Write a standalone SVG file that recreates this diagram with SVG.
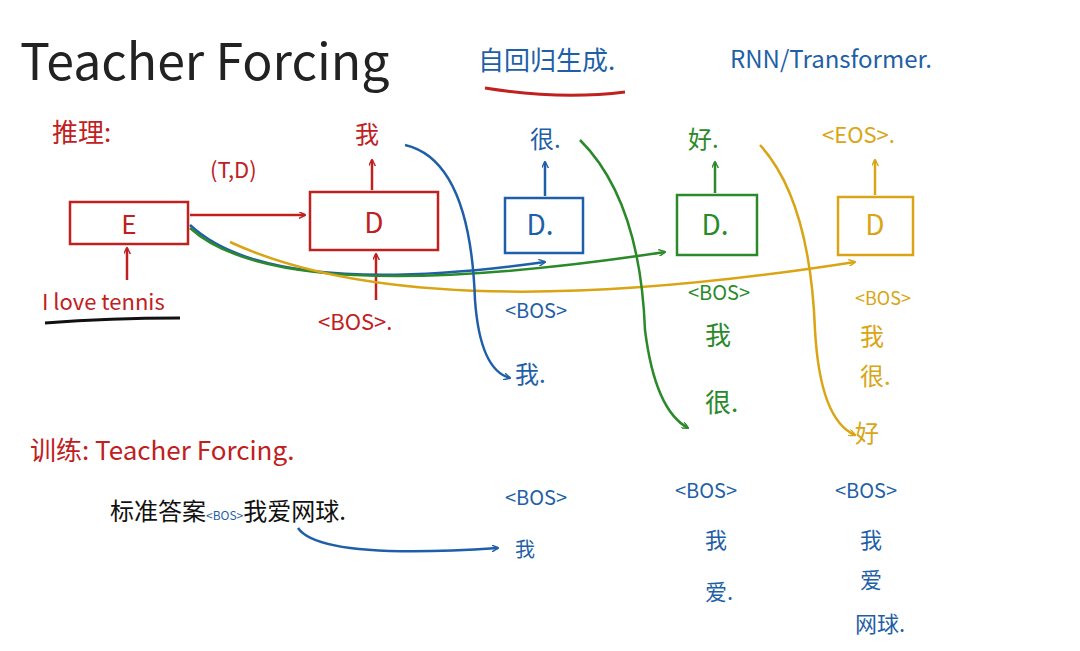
<svg xmlns="http://www.w3.org/2000/svg" width="1080" height="651" viewBox="0 0 1080 651">
<style>
.h{font-family:"Noto Sans CJK SC","Liberation Sans",sans-serif}
.r{fill:#c0201e}.b{fill:#1f5fa8}.g{fill:#2a8a2a}.y{fill:#d9a514}.k{fill:#111}
.box{fill:none;stroke-width:2.5}
.ln{fill:none;stroke-width:2.5}
</style>
<defs>
<marker id="ar" viewBox="0 0 10 10" refX="9" refY="5" markerWidth="7" markerHeight="7" orient="auto-start-reverse" markerUnits="userSpaceOnUse"><path d="M0,0L10,5L0,10" fill="none" stroke="context-stroke" stroke-width="2"/></marker>
</defs>
<rect width="1080" height="651" fill="#fff"/>
<text x="20" y="80" class="h" font-size="50" fill="#222">Teacher Forcing</text>
<text x="478" y="70" class="h b" font-size="26">自回归生成.</text>
<path d="M485,88 Q560,100 625,92" stroke="#c0201e" stroke-width="3" fill="none"/>
<text x="730" y="68" class="h b" font-size="24">RNN/Transformer.</text>
<text x="52" y="142" class="h r" font-size="26">推理:</text>
<text x="210" y="178" class="h r" font-size="22">(T,D)</text>
<g id="E"><rect x="70" y="202" width="118" height="42" class="box" stroke="#c0201e"/><text x="129" y="234" class="h r" font-size="26" text-anchor="middle">E</text></g>
<text x="42" y="310" class="h r" font-size="22">I love tennis</text>
<path d="M45,323 Q110,318 180,318" stroke="#111" stroke-width="3" fill="none"/>
<g id="D1"><rect x="310" y="192" width="128" height="58" class="box" stroke="#c0201e"/><text x="374" y="233" class="h r" font-size="28" text-anchor="middle">D</text></g>
<text x="355" y="143" class="h r" font-size="24">我</text>
<text x="318" y="330" class="h r" font-size="22">&lt;BOS&gt;.</text>
<g id="D2"><rect x="505" y="198" width="78" height="55" class="box" stroke="#1f5fa8"/><text x="540" y="235" class="h b" font-size="28" text-anchor="middle">D.</text></g>
<text x="530" y="148" class="h b" font-size="24">很.</text>
<text x="505" y="318" class="h b" font-size="20">&lt;BOS&gt;</text>
<text x="515" y="383" class="h b" font-size="24">我.</text>
<g id="D3"><rect x="677" y="195" width="80" height="60" class="box" stroke="#2a8a2a"/><text x="715" y="235" class="h g" font-size="28" text-anchor="middle">D.</text></g>
<text x="688" y="148" class="h g" font-size="24">好.</text>
<text x="688" y="300" class="h g" font-size="20">&lt;BOS&gt;</text>
<text x="705" y="345" class="h g" font-size="26">我</text>
<text x="705" y="412" class="h g" font-size="26">很.</text>
<g id="D4"><rect x="838" y="197" width="75" height="58" class="box" stroke="#d9a514"/><text x="875" y="235" class="h y" font-size="28" text-anchor="middle">D</text></g>
<text x="822" y="143" class="h y" font-size="22">&lt;EOS&gt;.</text>
<text x="855" y="305" class="h y" font-size="18">&lt;BOS&gt;</text>
<text x="860" y="345" class="h y" font-size="24">我</text>
<text x="860" y="385" class="h y" font-size="24">很.</text>
<text x="855" y="442" class="h y" font-size="24">好</text>
<text x="30" y="460" class="h r" font-size="26">训练:  Teacher Forcing.</text>
<text x="110" y="520" class="h k" font-size="24">标准答案<tspan class="b" font-size="12">&lt;BOS&gt;</tspan>我爱网球.</text>
<text x="505" y="505" class="h b" font-size="20">&lt;BOS&gt;</text>
<text x="515" y="557" class="h b" font-size="20">我</text>
<text x="675" y="498" class="h b" font-size="20">&lt;BOS&gt;</text>
<text x="705" y="548" class="h b" font-size="22">我</text>
<text x="705" y="600" class="h b" font-size="22">爱.</text>
<text x="835" y="498" class="h b" font-size="20">&lt;BOS&gt;</text>
<text x="860" y="548" class="h b" font-size="22">我</text>
<text x="860" y="588" class="h b" font-size="22">爱</text>
<text x="855" y="632" class="h b" font-size="22">网球.</text>
<g id="connectors">
<path d="M190,215 L305,215" class="ln" stroke="#c0201e" marker-end="url(#ar)"/>
<path d="M127,280 L127,248" class="ln" stroke="#c0201e" marker-end="url(#ar)"/>
<path d="M372,190 L372,160" class="ln" stroke="#c0201e" marker-end="url(#ar)"/>
<path d="M376,300 L376,254" class="ln" stroke="#c0201e" marker-end="url(#ar)"/>
<path d="M545,196 L545,162" class="ln" stroke="#1f5fa8" marker-end="url(#ar)"/>
<path d="M715,193 L715,162" class="ln" stroke="#2a8a2a" marker-end="url(#ar)"/>
<path d="M875,195 L875,160" class="ln" stroke="#d9a514" marker-end="url(#ar)"/>
<path d="M190,225 Q270,300 545,262" class="ln" stroke="#1f5fa8" marker-end="url(#ar)"/>
<path d="M190,228 Q280,310 665,252" class="ln" stroke="#2a8a2a" marker-end="url(#ar)"/>
<path d="M230,242 Q420,330 855,262" class="ln" stroke="#d9a514" marker-end="url(#ar)"/>
<path d="M405,145 Q470,160 475,300 Q480,370 510,378" class="ln" stroke="#1f5fa8" marker-end="url(#ar)"/>
<path d="M580,140 Q640,200 645,330 Q655,410 688,428" class="ln" stroke="#2a8a2a" marker-end="url(#ar)"/>
<path d="M760,145 Q810,200 815,330 Q820,420 855,435" class="ln" stroke="#d9a514" marker-end="url(#ar)"/>
<path d="M298,528 Q320,560 498,548" class="ln" stroke="#1f5fa8" marker-end="url(#ar)"/>
</g>
</svg>
